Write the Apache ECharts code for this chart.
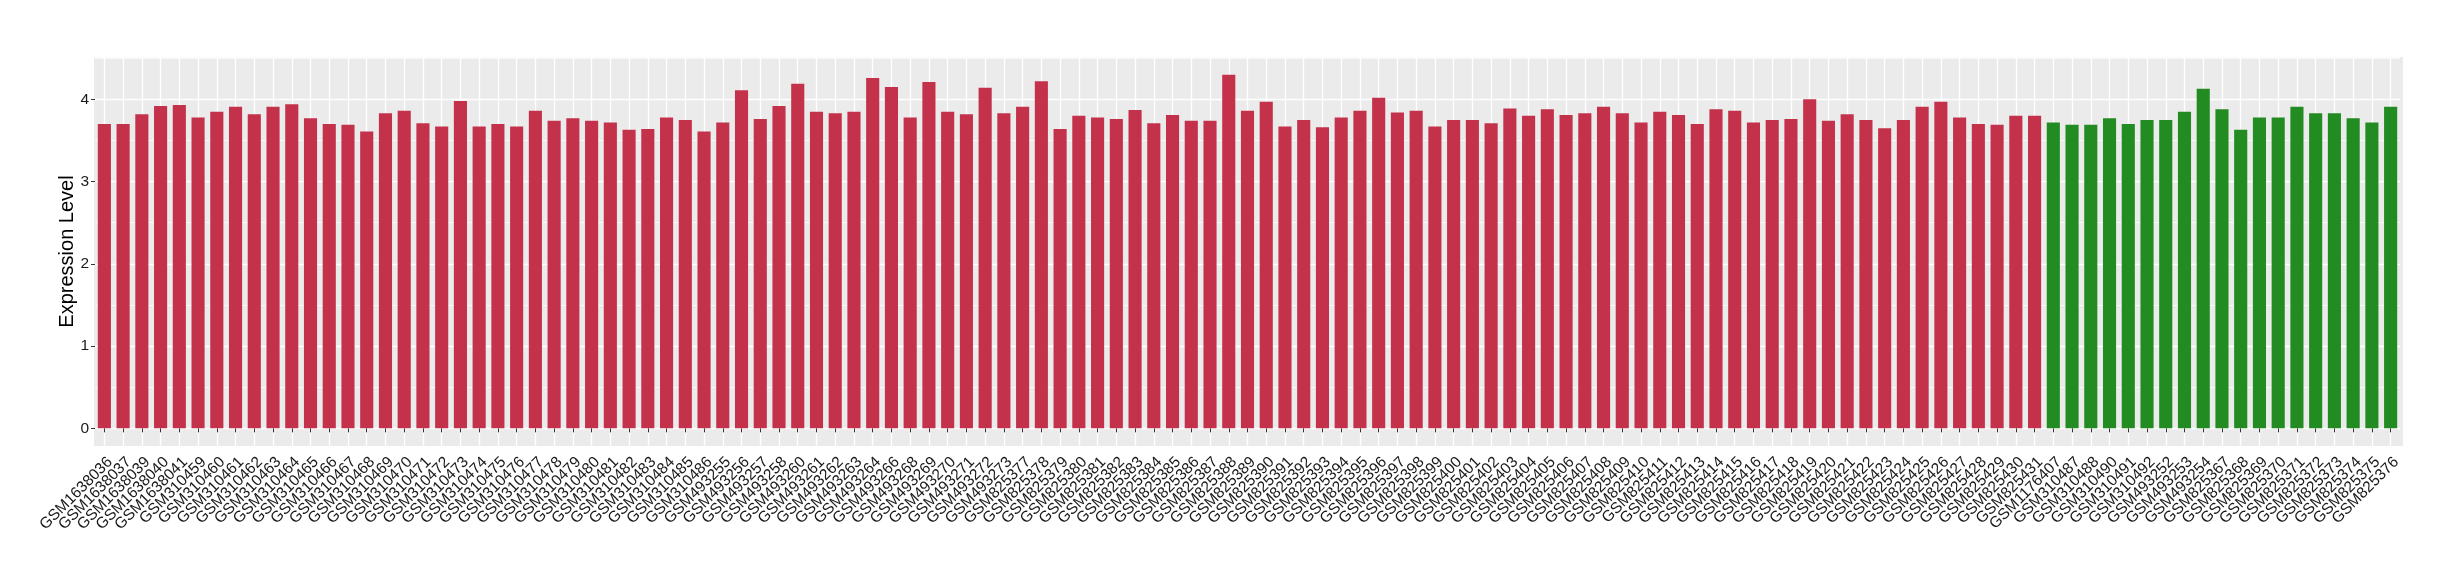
<!DOCTYPE html>
<html><head><meta charset="utf-8">
<script src="https://cdn.jsdelivr.net/npm/echarts@6/dist/echarts.min.js"></script>
<style>html,body{margin:0;padding:0;background:#fff}#c{width:2460px;height:580px}</style>
</head><body><div id="c"></div>
<script>
const redSamples = [
  "GSM1638036","GSM1638037","GSM1638039","GSM1638040","GSM1638041",
  "GSM310459","GSM310460","GSM310461","GSM310462","GSM310463","GSM310464","GSM310465","GSM310466","GSM310467","GSM310468",
  "GSM310469","GSM310470","GSM310471","GSM310472","GSM310473","GSM310474","GSM310475","GSM310476","GSM310477","GSM310478",
  "GSM310479","GSM310480","GSM310481","GSM310482","GSM310483","GSM310484","GSM310485","GSM310486",
  "GSM493255","GSM493256","GSM493257","GSM493258","GSM493260","GSM493261","GSM493262","GSM493263","GSM493264","GSM493266",
  "GSM493268","GSM493269","GSM493270","GSM493271","GSM493272","GSM493273",
  "GSM825377","GSM825378","GSM825379","GSM825380","GSM825381","GSM825382","GSM825383","GSM825384","GSM825385","GSM825386",
  "GSM825387","GSM825388","GSM825389","GSM825390","GSM825391","GSM825392","GSM825393","GSM825394","GSM825395","GSM825396",
  "GSM825397","GSM825398","GSM825399","GSM825400","GSM825401","GSM825402","GSM825403","GSM825404","GSM825405","GSM825406",
  "GSM825407","GSM825408","GSM825409","GSM825410","GSM825411","GSM825412","GSM825413","GSM825414","GSM825415","GSM825416",
  "GSM825417","GSM825418","GSM825419","GSM825420","GSM825421","GSM825422","GSM825423","GSM825424","GSM825425","GSM825426",
  "GSM825427","GSM825428","GSM825429","GSM825430","GSM825431"
];
const redValues = [
  3.70,3.70,3.82,3.92,3.93,
  3.78,3.85,3.91,3.82,3.91,3.94,3.77,3.70,3.69,3.61,
  3.83,3.86,3.71,3.67,3.98,3.67,3.70,3.67,3.86,3.74,
  3.77,3.74,3.72,3.63,3.64,3.78,3.75,3.61,
  3.72,4.11,3.76,3.92,4.19,3.85,3.83,3.85,4.26,4.15,
  3.78,4.21,3.85,3.82,4.14,3.83,
  3.91,4.22,3.64,3.80,3.78,3.76,3.87,3.71,3.81,3.74,
  3.74,4.30,3.86,3.97,3.67,3.75,3.66,3.78,3.86,4.02,
  3.84,3.86,3.67,3.75,3.75,3.71,3.89,3.80,3.88,3.81,
  3.83,3.91,3.83,3.72,3.85,3.81,3.70,3.88,3.86,3.72,
  3.75,3.76,4.00,3.74,3.82,3.75,3.65,3.75,3.91,3.97,
  3.78,3.70,3.69,3.80,3.80
];
const greenSamples = [
  "GSM1176407","GSM310487","GSM310488","GSM310490","GSM310491","GSM310492",
  "GSM493252","GSM493253","GSM493254",
  "GSM825367","GSM825368","GSM825369","GSM825370","GSM825371","GSM825372","GSM825373","GSM825374","GSM825375","GSM825376"
];
const greenValues = [
  3.72,3.69,3.69,3.77,3.70,3.75,
  3.75,3.85,4.13,
  3.88,3.63,3.78,3.78,3.91,3.83,3.83,3.77,3.72,3.91
];
const yTicks = [0, 1, 2, 3, 4];
const yTitle = "Expression Level";

const RED = "#C3324A", GREEN = "#228B22";
const categories = redSamples.concat(greenSamples);
const barData = redValues.map(v => ({value: v, itemStyle: {color: RED}}))
  .concat(greenValues.map(v => ({value: v, itemStyle: {color: GREEN}})));

const font = "'Liberation Sans', Arial, Helvetica, sans-serif";
const chart = echarts.init(document.getElementById('c'), null, {renderer: 'canvas'});
chart.setOption({
  animation: false,
  backgroundColor: '#ffffff',
  graphic: {elements: [{type: 'rect', z: -100, silent: true,
    shape: {x: 94, y: 57, width: 2309, height: 389}, style: {fill: '#EBEBEB'}}]},
  grid: {left: 95, right: 60, top: 57, bottom: 134, show: true, backgroundColor: '#EBEBEB', borderWidth: 0},
  xAxis: [{
    type: 'category', data: categories,
    axisLine: {show: false},
    axisTick: {show: true, alignWithLabel: true, interval: 0, length: 4, lineStyle: {color: '#333', width: 1}},
    axisLabel: {interval: 0, rotate: 45, verticalAlign: 'top', fontFamily: font, fontSize: 15.5, color: '#1a1a1a', margin: 8},
    splitLine: {show: true, alignWithLabel: true, interval: 0, lineStyle: {color: '#ffffff', width: 1.3}}
  }],
  yAxis: [{
    type: 'value', min: -0.215, max: 4.515, splitNumber: 5,
    axisLine: {show: false},
    axisTick: {show: true, length: 4, customValues: yTicks, lineStyle: {color: '#333', width: 1}},
    axisLabel: {customValues: yTicks, fontFamily: font, fontSize: 15.5, color: '#1a1a1a', margin: 6},
    splitLine: {show: true, lineStyle: {color: '#ffffff', width: 1.3}},
    name: yTitle, nameLocation: 'middle', nameGap: 18, nameRotate: 90, nameMoveOverlap: false,
    nameTextStyle: {fontFamily: font, fontSize: 20, color: '#000'}
  }, {
    type: 'value', min: 0.285, max: 5.015, splitNumber: 5, position: 'right',
    axisLine: {show: false}, axisTick: {show: false}, axisLabel: {show: false},
    splitLine: {show: true, lineStyle: {color: '#ffffff', width: 0.7}}
  }],
  series: [{
    type: 'bar', data: barData, barWidth: '70%', xAxisIndex: 0, yAxisIndex: 0, silent: true
  }]
});
</script></body></html>
